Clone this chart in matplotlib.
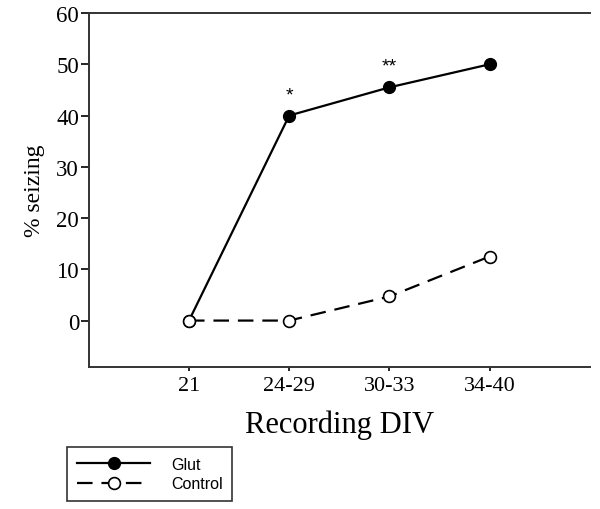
import matplotlib
matplotlib.use('Agg')
import matplotlib.pyplot as plt

# data
div_groups = ['21', '24-29', '30-33', '34-40']
glut = [0, 40, 45.5, 50]
control = [0, 0, 4.7, 12.5]
stars = ['', '*', '**', '']

fig = plt.figure(figsize=(6, 5.1), dpi=100)
ax = fig.add_axes([0.148, 0.279, 0.835, 0.6935])

xs = list(range(len(div_groups)))
ax.plot(xs, glut, color='black', lw=1.6, marker='o', ms=8.5,
        mfc='black', mec='black', label='Glut', zorder=3)
ax.plot(xs, control, color='black', lw=1.6, ls=(0, (7, 4)), marker='o', ms=8.5,
        mfc='white', mec='black', mew=1.2, label='Control', zorder=4)

for x, y, s in zip(xs, glut, stars):
    if s:
        ax.annotate(s, (x, y), xytext=(0, 9), textcoords='offset points',
                    ha='center', va='bottom', fontsize=14, family='Liberation Sans')

ax.set_xlim(-1, 4)
ax.set_ylim(-9, 60)
ax.set_xticks(xs)
ax.set_xticklabels(div_groups, family='Liberation Serif', fontsize=16)
ax.set_yticks(range(0, 61, 10))
ax.set_yticklabels([str(v) for v in range(0, 61, 10)], family='Liberation Serif', fontsize=16.5)
ax.tick_params(axis='y', direction='out', length=6, width=1.2, pad=1)
ax.tick_params(axis='x', direction='out', length=3, width=1.2, pad=4)

ax.spines['right'].set_visible(False)
for s in ['left', 'top', 'bottom']:
    ax.spines[s].set_linewidth(1.4)
    ax.spines[s].set_color('#333333')

ax.set_xlabel('Recording DIV', family='Liberation Serif', fontsize=22, labelpad=10)
ax.set_ylabel('% seizing', family='Liberation Serif', fontsize=17, labelpad=8)

leg = fig.legend(loc='upper left', bbox_to_anchor=(0.112, 0.1216), fancybox=False,
                 edgecolor='#333333', handlelength=4.6, borderpad=0.6, labelspacing=0.3,
                 handletextpad=1.3, borderaxespad=0,
                 prop={'family': 'Liberation Sans', 'size': 11.5}, framealpha=1)
leg.get_frame().set_linewidth(1.2)

fig.savefig('out.png', dpi=100)
